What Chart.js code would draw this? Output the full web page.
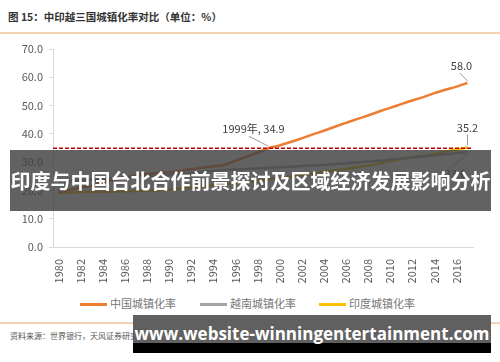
<!DOCTYPE html>
<html>
<head>
<meta charset="utf-8">
<script src="https://cdn.jsdelivr.net/npm/chart.js@4.4.1/dist/chart.umd.min.js"></script>
<style>
  body { margin: 0; background: #fff; font-family: "Noto Sans CJK SC", sans-serif; }
  #wrap { position: relative; width: 500px; height: 362px; overflow: hidden; }
  #cadre { position: absolute; left: 0; top: 0; }
  .title { position: absolute; left: 8px; top: 9px; font-size: 10.5px; font-weight: 600; color: #333; }
  .rule { position: absolute; left: 0; width: 500px; height: 2px; background: #f3d3b3; }
  .legend { position: absolute; top: 295px; left: 0; width: 500px; font-size: 11px; color: #777; }
  .legend span { position: absolute; white-space: nowrap; }
  .legend i { display: inline-block; width: 27px; height: 3px; vertical-align: middle; margin-right: 3px; position: relative; top: -1px; }
  .source { position: absolute; left: 10px; top: 330px; font-size: 8px; color: #555; }
  .banner { position: absolute; left: 10px; top: 150px; width: 481px; height: 61px; background: rgba(64,64,64,0.82);
            color: #fff; font-weight: 700; font-size: 20px; line-height: 61px; text-align: center; white-space: nowrap; }
  .site { position: absolute; left: 133px; top: 315px; width: 358px; height: 38px;
          background: linear-gradient(#606060 0, #606060 74%, #000 74%, #000 100%);
          color: #fff; font-weight: 700; font-size: 17px; line-height: 38px; text-align: center; white-space: nowrap;
          font-family: "Open Sans", sans-serif; }
</style>
</head>
<body>
<div id="wrap">
  <div class="title">图 15：中印越三国城镇化率对比（单位：%）</div>
  <div class="rule" style="top:32px"></div>
  <canvas id="cadre" width="500" height="290"></canvas>
  <div class="legend">
    <span style="left:80px"><i style="background:#ED7D31"></i>中国城镇化率</span>
    <span style="left:200px"><i style="background:#A5A5A5"></i>越南城镇化率</span>
    <span style="left:319px"><i style="background:#FFC000"></i>印度城镇化率</span>
  </div>
  <div class="rule" style="top:322px"></div>
  <div class="source">资料来源：世界银行，天风证券研究所</div>
  <div class="banner">印度与中国台北合作前景探讨及区域经济发展影响分析</div>
  <div class="site">www.website-winningentertainment.com</div>
</div>
<script>
const years = [];
for (let y = 1980; y <= 2017; y++) years.push(String(y));

const chinaRate = [19.4, 20.2, 21.1, 21.6, 23.0, 23.7, 24.5, 25.3, 25.8, 26.2,
  26.4, 26.9, 27.5, 28.0, 28.5, 29.0, 30.5, 31.9, 33.4, 34.9,
  35.9, 37.1, 38.4, 39.8, 41.1, 42.5, 43.9, 45.2, 46.5, 47.9,
  49.2, 50.5, 51.8, 53.0, 54.4, 55.6, 56.7, 58.0];

const vietnamRate = [23.1, 23.3, 23.6, 23.8, 24.1, 24.3, 24.6, 24.8, 25.0, 25.3,
  25.5, 25.8, 26.2, 26.6, 26.9, 27.2, 27.4, 27.6, 27.8, 28.0,
  28.2, 28.4, 28.6, 28.8, 29.0, 29.3, 29.6, 29.9, 30.2, 30.5,
  30.9, 31.3, 31.6, 32.0, 32.4, 32.8, 33.2, 33.6];

const indiaRate = [19.2, 19.3, 19.4, 19.5, 19.5, 19.6, 19.7, 19.8, 19.9, 20.1,
  20.3, 20.6, 21.0, 21.4, 21.8, 22.2, 22.6, 23.0, 23.4, 23.9,
  24.4, 24.9, 25.4, 26.0, 26.5, 27.1, 27.6, 28.2, 28.8, 29.4,
  30.4, 31.0, 31.7, 32.3, 33.0, 33.8, 34.5, 35.2];

const yTicks = [0, 10, 20, 30, 40, 50, 60, 70];
const refValue = 34.9;

// labels: [dataset, index, text, dx, dy]
const notes = [
  [0, 19, "1999年, 34.9", -15, -19],
  [0, 37, "58.0", -6, -17],
  [2, 37, "35.2", 0, -20],
  [1, 37, "33.6", -12, 22]
];

const annotate = {
  id: "annotate",
  afterDatasetsDraw(chart) {
    const ctx = chart.ctx;
    const area = chart.chartArea;
    const ys = chart.scales.y;
    ctx.save();
    // red dashed reference line
    const ry = ys.getPixelForValue(refValue);
    ctx.strokeStyle = "#C00000";
    ctx.lineWidth = 1.5;
    ctx.setLineDash([4, 2]);
    ctx.beginPath();
    ctx.moveTo(area.left, ry);
    ctx.lineTo(area.right, ry);
    ctx.stroke();
    ctx.setLineDash([]);

    ctx.font = "11px 'Noto Sans CJK SC'";
    ctx.textAlign = "center";
    ctx.textBaseline = "middle";
    notes.forEach(([ds, i, txt, dx, dy]) => {
      const pt = chart.getDatasetMeta(ds).data[i];
      const tx = pt.x + dx, ty = pt.y + dy;
      ctx.strokeStyle = "#999";
      ctx.lineWidth = 1;
      ctx.beginPath();
      const sy = dy < 0 ? ty + 7 : ty - 7;
      const sx = dx === 0 ? pt.x : tx + dx * 0.3;
      ctx.moveTo(sx, sy);
      ctx.lineTo(pt.x, pt.y + (dy < 0 ? -2 : 2));
      ctx.stroke();
      ctx.fillStyle = "#404040";
      ctx.fillText(txt, tx, ty);
    });
    ctx.restore();
  }
};

const ctx = document.getElementById("cadre").getContext("2d");

new Chart(ctx, {
  type: "line",
  data: {
    labels: years,
    datasets: [
      { label: "中国城镇化率", data: chinaRate, borderColor: "#ED7D31", borderWidth: 2.5, pointRadius: 0, tension: 0.2 },
      { label: "越南城镇化率", data: vietnamRate, borderColor: "#A5A5A5", borderWidth: 2.5, pointRadius: 0, tension: 0.2 },
      { label: "印度城镇化率", data: indiaRate, borderColor: "#FFC000", borderWidth: 2.5, pointRadius: 0, tension: 0.2 }
    ]
  },
  options: {
    responsive: false,
    animation: false,
    devicePixelRatio: 1,
    layout: { padding: { top: 49, right: 27, left: 0, bottom: 0 } },
    plugins: { legend: { display: false }, tooltip: { enabled: false } },
    scales: {
      x: {
        offset: true,
        grid: { display: false },
        border: { display: true, color: "#d9d9d9" },
        ticks: {
          autoSkip: false,
          minRotation: 90,
          maxRotation: 90,
          padding: 4,
          color: "#595959",
          font: { size: 11, family: "'Noto Sans CJK SC'" },
          callback: (v, i) => (i % 2 === 0 ? years[i] : "")
        },
        afterFit: (s) => { s.height = 43; }
      },
      y: {
        min: 0,
        max: 70,
        afterBuildTicks: (s) => { s.ticks = yTicks.map((v) => ({ value: v })); },
        grid: { drawOnChartArea: false, tickLength: 4, color: "#d9d9d9" },
        border: { display: true, color: "#d9d9d9" },
        ticks: {
          padding: 6,
          color: "#595959",
          font: { size: 11, family: "'Noto Sans CJK SC'" },
          callback: (v) => v.toFixed(1)
        },
        afterFit: (s) => { s.width = 53; }
      }
    }
  },
  plugins: [annotate]
});
</script>
</body>
</html>
